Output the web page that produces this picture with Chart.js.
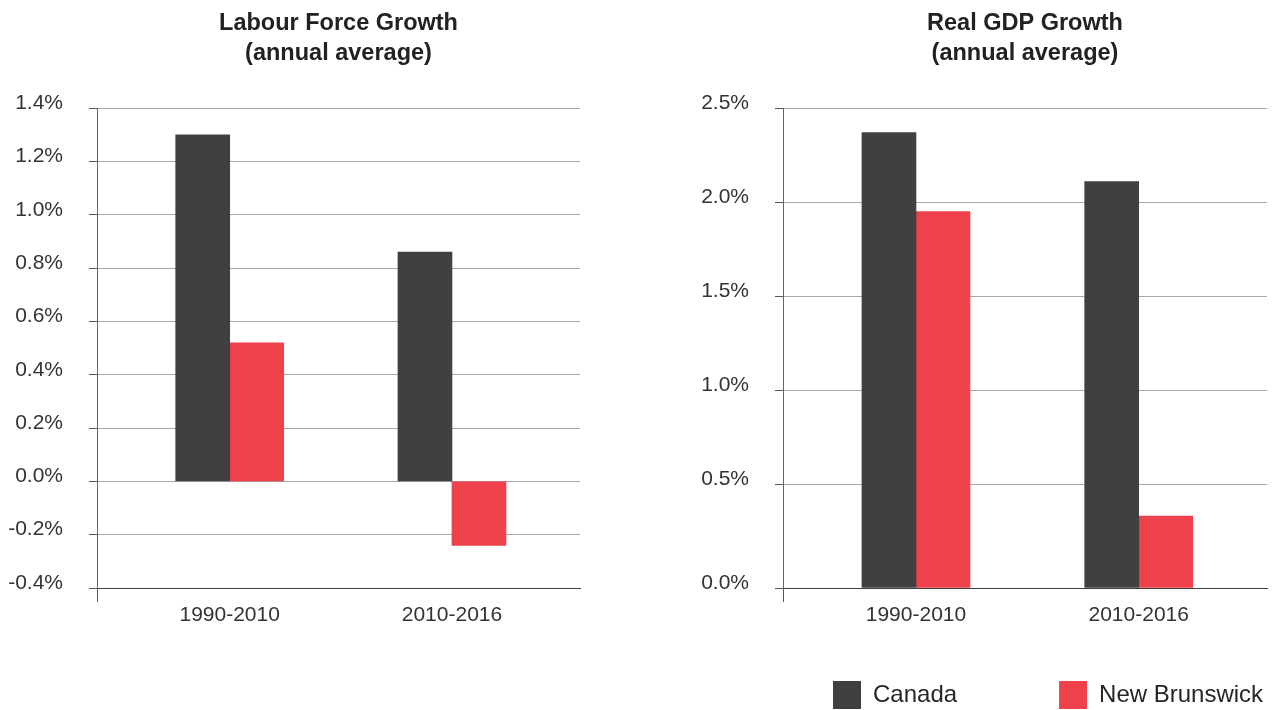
<!DOCTYPE html>
<html>
<head>
<meta charset="utf-8">
<script src="https://cdn.jsdelivr.net/npm/chart.js@4/dist/chart.umd.min.js"></script>
<style>
  html, body { margin: 0; padding: 0; background: #fff; overflow: hidden; }
  #wrap { position: relative; width: 1277px; height: 710px; overflow: hidden; }
  canvas { position: absolute; }
</style>
</head>
<body>
<div id="wrap">
  <canvas id="LabourChart" width="600" height="710" style="left:0px;top:0px"></canvas>
  <canvas id="GdpChart" width="591" height="710" style="left:686px;top:0px"></canvas>
  <canvas id="LegendChart" width="650" height="300" style="left:731px;top:579px"></canvas>
</div>
<script>
const categories = ["1990-2010", "2010-2016"];
const seriesNames = ["Canada", "New Brunswick"];
const seriesColors = ["#404040", "#ef414b"];

// Labour force growth, % per year
const labourCanada = [1.30, 0.86];
const labourNB = [0.52, -0.24];
const labourTicks = [-0.4, -0.2, 0.0, 0.2, 0.4, 0.6, 0.8, 1.0, 1.2, 1.4];
const labourTickLabels = ["-0.4%", "-0.2%", "0.0%", "0.2%", "0.4%", "0.6%", "0.8%", "1.0%", "1.2%", "1.4%"];

// Real GDP growth, % per year
const gdpCanada = [2.37, 2.11];
const gdpNB = [1.95, 0.33];
const gdpAxisMin = -0.053; // the original's bottom line sits a bit below 0 and is labelled 0.0%
const gdpTicks = [gdpAxisMin, 0.5, 1.0, 1.5, 2.0, 2.5];
const gdpTickLabels = ["0.0%", "0.5%", "1.0%", "1.5%", "2.0%", "2.5%"];

const xMin = -0.597, xMax = 1.576;
const fontFamily = "'Liberation Sans', Arial, sans-serif";

function CreateGrowthChart(canvasId, titleLines, canadaValues, nbValues, yTicks, yLabels, yMin, yMax, padRight, barBase) {
    let ctx = document.getElementById(canvasId).getContext('2d');
    const toPoints = vals => vals.map((v, i) => ({ x: i, y: v }));

    var datasets = [
        { label: seriesNames[0], backgroundColor: seriesColors[0], data: toPoints(canadaValues) },
        { label: seriesNames[1], backgroundColor: seriesColors[1], data: toPoints(nbValues) }
    ];
    if (barBase !== undefined) datasets.forEach(d => d.base = barBase);

    new Chart(ctx, {
        type: "bar",
        data: { datasets: datasets },
        options: {
            responsive: false,
            animation: false,
            events: [],
            layout: { padding: { left: 0, right: padRight, top: 0, bottom: 0 } },
            datasets: { bar: { barThickness: 54, borderWidth: 0 } },
            plugins: {
                legend: { display: false },
                tooltip: { enabled: false },
                title: {
                    display: true,
                    text: titleLines,
                    fullSize: false,
                    color: "#222",
                    font: { family: fontFamily, size: 23.5, weight: "bold", lineHeight: 1.28 },
                    padding: { top: 8, bottom: 40 }
                }
            },
            scales: {
                x: {
                    type: "linear",
                    min: xMin,
                    max: xMax,
                    offset: false,
                    afterBuildTicks: s => { s.ticks = [{ value: xMin }, { value: 0 }, { value: 1 }]; },
                    afterFit: s => { s.height = 122; },
                    grid: {
                        offset: false,
                        drawOnChartArea: false,
                        tickLength: 14,
                        tickColor: c => c.index === 0 ? "#555" : "rgba(0,0,0,0)"
                    },
                    border: { color: "#404040", width: 1 },
                    ticks: {
                        maxRotation: 0,
                        autoSkip: false,
                        padding: 1,
                        color: "#333",
                        font: { family: fontFamily, size: 21 },
                        callback: (v, i) => i === 0 ? "" : categories[v]
                    }
                },
                y: {
                    min: yMin,
                    max: yMax,
                    afterBuildTicks: s => { s.ticks = yTicks.map(v => ({ value: v })); },
                    afterFit: s => { s.width = 97; },
                    grid: {
                        color: c => c.index === 0 ? "#404040" : "#a8a8a8",
                        tickLength: 8,
                        tickColor: "#555"
                    },
                    border: { color: "#666", width: 1 },
                    ticks: {
                        padding: 26,
                        labelOffset: -5,
                        color: "#333",
                        font: { family: fontFamily, size: 21 },
                        callback: (v, i) => yLabels[i]
                    }
                }
            }
        }
    });
}

function CreateLegend() {
    let ctx = document.getElementById('LegendChart').getContext('2d');
    new Chart(ctx, {
        type: "bar",
        data: {
            labels: categories,
            datasets: seriesNames.map((name, i) => ({ label: name, backgroundColor: seriesColors[i], data: [] }))
        },
        options: {
            responsive: false,
            animation: false,
            events: [],
            scales: { x: { display: false }, y: { display: false } },
            plugins: {
                tooltip: { enabled: false },
                legend: {
                    display: true,
                    position: "top",
                    align: "start",
                    labels: {
                        boxWidth: 28,
                        boxHeight: 28,
                        padding: 102,
                        color: "#262626",
                        font: { family: fontFamily, size: 24 }
                    }
                }
            }
        }
    });
}

CreateGrowthChart("LabourChart", ["Labour Force Growth", "(annual average)"], labourCanada, labourNB,
    labourTicks, labourTickLabels, -0.4, 1.4, 20);
CreateGrowthChart("GdpChart", ["Real GDP Growth", "(annual average)"], gdpCanada, gdpNB,
    gdpTicks, gdpTickLabels, gdpAxisMin, 2.5, 10, gdpAxisMin);
CreateLegend();
</script>
</body>
</html>
